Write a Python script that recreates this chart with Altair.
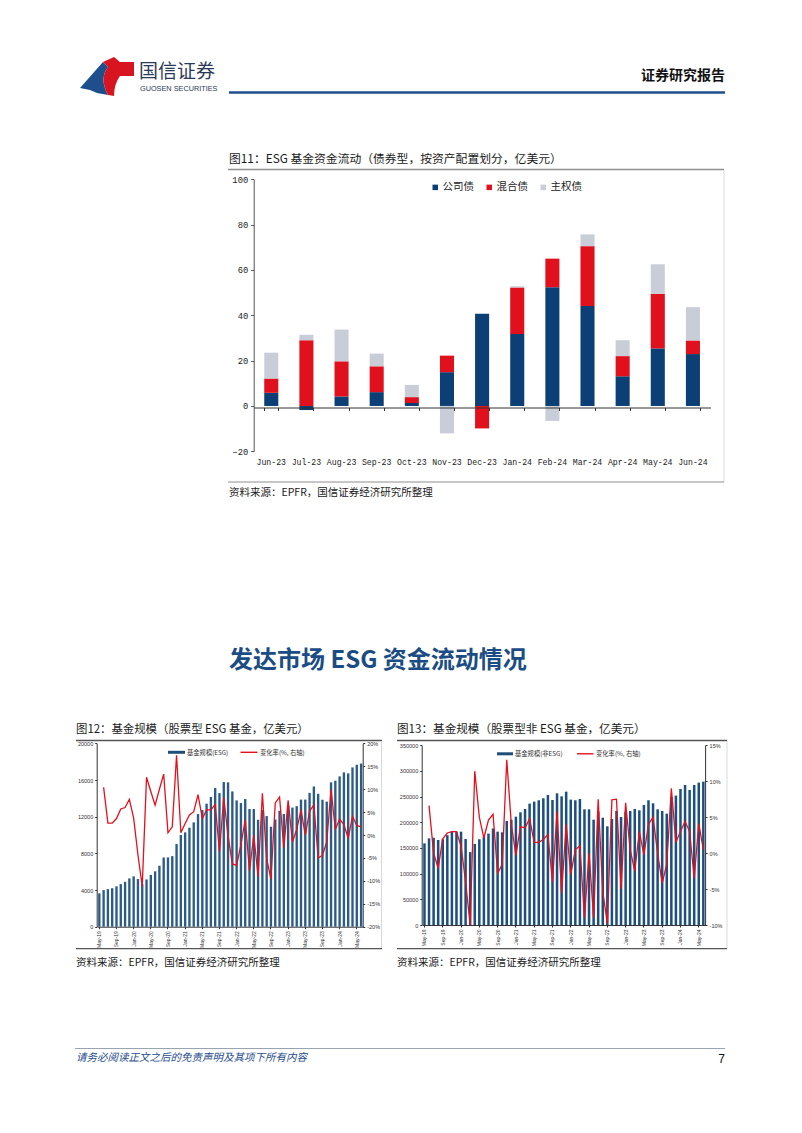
import altair as alt
import pandas as pd

W, H = 802, 1133
FONT = "Noto Sans CJK SC"
MONO = "Liberation Mono"
SANS = "Liberation Sans"

# ---------------- Figure 11 data ----------------
months11 = ["Jun-23", "Jul-23", "Aug-23", "Sep-23", "Oct-23", "Nov-23", "Dec-23",
            "Jan-24", "Feb-24", "Mar-24", "Apr-24", "May-24", "Jun-24"]
series11 = ["公司债", "混合债", "主权债"]
colors11 = ["#0b3f75", "#e1101d", "#c8cdd7"]
corp = [5.8, -1.8, 4.2, 6.1, 1.3, 14.9, 40.7, 31.7, 52.4, 44.1, 13.1, 25.4, 22.9]
mixed = [6.3, 29.0, 15.5, 11.4, 2.6, 7.3, -9.9, 20.6, 12.6, 26.4, 8.9, 24.1, 6.0]
sovereign = [11.4, 2.4, 14.0, 5.6, 5.4, -12.1, 0.0, 0.5, -6.6, 5.2, 7.0, 13.0, 14.7]

# ---------------- Figure 12 / 13 data ----------------
months = list(pd.date_range("2019-05-01", periods=62, freq="MS").strftime("%b-%y"))
label_months = months[::4]

esg_size = [3640, 4000, 4100, 4200, 4400, 4650, 4900, 5270, 5490, 5200,
            4650, 5160, 5650, 6040, 6650, 7550, 7560, 7700, 9020, 10000,
            10290, 10800, 11380, 12290, 12730, 13420, 14150, 15130, 14580, 15780,
            15750, 14760, 13780, 13490, 13930, 12840, 12840, 11670, 12730, 12070,
            10910, 11700, 12650, 12300, 13200, 13000, 13150, 13870, 13870, 14600,
            15300, 14500, 13850, 13650, 15750, 15930, 16400, 16840, 16730, 17380,
            17670, 17800]
esg_rate = [None, 10.4, 2.6, 2.6, 3.6, 5.7, 6.0, 7.8, 3.7, -4.3,
            -11.2, 12.6, 9.5, 6.5, 10.0, 13.3, 0.5, 1.8, 17.4, 0.5,
            2.5, 4.4, 5.1, 8.8, 3.6, 5.5, 5.5, 6.7, -3.6, 8.2,
            -0.2, -6.3, -6.6, -2.1, 3.3, -7.8, 0.0, -9.1, 9.1, -5.2,
            -9.6, 7.0, 8.3, -2.8, 7.6, -1.5, 1.2, 5.5, 0.0, 5.2,
            6.6, -5.0, -4.4, -1.5, 10.0, 1.2, 3.5, 2.3, -0.7, 4.1,
            2.1, 1.8]

non_size = [159000, 168800, 170000, 165600, 167000, 175000, 181800, 181800, 181800, 167500,
            142000, 158000, 167000, 171500, 178000, 188000, 181800, 180500, 202600, 205000,
            211000, 219500, 226000, 236400, 240300, 242900, 246800, 253200, 243500, 256500,
            250600, 259700, 244200, 242900, 245500, 225300, 225300, 205200, 220800, 209000,
            192200, 206500, 222100, 210400, 220800, 222100, 226000, 223400, 233800, 242900,
            237000, 225300, 222100, 216900, 249400, 252000, 265000, 272700, 263000, 272700,
            277300, 279200]
non_rate = [None, 6.6, 0.0, -2.1, 2.0, 2.8, 3.0, 3.0, 1.0, -4.0,
            -10.0, 11.4, 5.0, 2.1, 4.6, 5.4, -2.8, -1.6, 13.0, 4.0,
            -0.3, 3.7, 3.5, 4.8, 1.5, 1.5, 1.9, 2.6, -4.0, 5.8,
            -5.5, 4.0, -3.0, 0.5, 1.0, -9.0, 0.0, -9.0, 7.5, -5.3,
            -9.8, 7.4, 7.5, -5.0, 7.0, 0.5, -2.5, 3.0, -0.2, 4.0,
            5.0, 0.0, -4.2, -1.5, 9.0, 1.5, 3.0, 4.4, 3.0, -3.5,
            4.1, 0.5]

one = pd.DataFrame({"k": [0]})


def txt(s, x, y, size, color="#1a1a1a", font=FONT, weight="normal", align="left",
        style="normal", baseline="middle"):
    return alt.Chart(one).mark_text(
        text=s, fontSize=size, font=font, color=color, align=align,
        baseline=baseline, fontWeight=weight, fontStyle=style
    ).encode(x=alt.value(x), y=alt.value(y))


def hline(x1, x2, y, color="#8c8c8c", w=1.0):
    return alt.Chart(one).mark_rule(color=color, strokeWidth=w).encode(
        x=alt.value(x1), x2=alt.value(x2), y=alt.value(y))


def vline(x, y1, y2, color="#d9d9d9", w=1.0):
    return alt.Chart(one).mark_rule(color=color, strokeWidth=w).encode(
        x=alt.value(x), y=alt.value(y1), y2=alt.value(y2))


# ---------------- Header ----------------
blue_path = ("M -1 0.44 L -0.15 -0.52 L 0.04 -0.33 Q -0.3 0.1 0.04 0.7 "
             "L -0.37 0.63 L -0.63 0.52 Z")
red_path = ("M -0.15 -0.52 L 0.26 -0.7 L 0.48 -0.52 L 1 -0.52 L 1 0 L 0.48 0 "
            "Q 0.26 0.3 0.26 0.74 L 0.04 0.7 Q -0.3 0.1 0.04 -0.33 Z")
logo_blue = alt.Chart(one).mark_point(shape=blue_path, filled=True, color="#1f4e8c",
                                      size=2916, opacity=1, strokeWidth=0).encode(
    x=alt.value(107), y=alt.value(76))
logo_red = alt.Chart(one).mark_point(shape=red_path, filled=True, color="#d7141f",
                                     size=2916, opacity=1, strokeWidth=0).encode(
    x=alt.value(107), y=alt.value(76))

header = [
    logo_blue, logo_red,
    txt("国信证券", 139, 72, 19, color="#2a3a58"),
    txt("GUOSEN SECURITIES", 140, 89, 7.3, color="#2a3a58", font=SANS),
    txt("证券研究报告", 725, 76, 14, color="#111111", weight="bold", align="right"),
    hline(229, 725, 92.5, color="#1f4e8c", w=2.5),
]

# ---------------- Figure 11 ----------------
rows = []
for i, m in enumerate(months11):
    for j, (s, vals) in enumerate(zip(series11, [corp, mixed, sovereign])):
        rows.append({"month": m, "series": s, "value": vals[i], "ord": j})
df11 = pd.DataFrame(rows)

x11_scale = alt.Scale(domain=months11, range=[253.7, 710.5], paddingInner=0.6, paddingOuter=0.3)
bars11 = alt.Chart(df11).mark_bar().encode(
    x=alt.X("month:N", sort=months11, scale=x11_scale,
            axis=alt.Axis(orient="bottom", offset=-(H - 451.3), domain=False, ticks=False,
                          labelPadding=7, labelFont=MONO, labelFontSize=8.2, labelColor="#222",
                          labelAngle=0, title=None, labelOverlap=False, grid=False)),
    y=alt.Y("value:Q", stack="zero",
            scale=alt.Scale(domain=[-20, 100], range=[451.3, 179.3], nice=False, zero=False),
            axis=alt.Axis(orient="left", offset=-253.7, values=[-20, 0, 20, 40, 60, 80, 100],
                          domainColor="#555", tickColor="#555", tickSize=3, labelPadding=3,
                          labelFont=MONO, labelFontSize=8.8, labelColor="#222", grid=False,
                          title=None)),
    color=alt.Color("series:N", sort=series11,
                    scale=alt.Scale(domain=series11, range=colors11),
                    legend=alt.Legend(orient="none", legendX=430, legendY=182,
                                      direction="horizontal", title=None, symbolType="square",
                                      symbolSize=30, symbolStrokeWidth=0, labelFont=FONT,
                                      labelFontSize=10.5, labelColor="#222", columnPadding=10,
                                      labelOffset=2)),
    order=alt.Order("ord:Q"),
)
zero11 = alt.Chart(pd.DataFrame({"month": months11})).mark_point(opacity=0).encode(
    x=alt.X("month:N", sort=months11, scale=x11_scale,
            axis=alt.Axis(orient="bottom", offset=-(H - 407.5), labels=False,
                          domainColor="#333", tickColor="#333", tickSize=3,
                          tickBand="extent", title=None, grid=False, zindex=1)))

fig11 = [
    txt("图11：ESG 基金资金流动（债券型，按资产配置划分，亿美元）", 229, 158.5, 11.8),
    hline(228, 724, 169.5, color="#8f8f8f", w=1.6),
    vline(724, 170, 482),
    bars11, zero11,
    hline(228, 724, 482, color="#8f8f8f", w=1.2),
    txt("资料来源：EPFR，国信证券经济研究所整理", 229, 492.5, 10.5),
]

heading = [txt("发达市场 ESG 资金流动情况", 229, 661, 24, color="#1b4d84", weight="bold")]


# ---------------- Figure 12 / 13 builder ----------------
def size_rate_chart(sizes, rates, xr, ymax, ystep, rmin, rmax, rstep, top, bottom, bar_color):
    df = pd.DataFrame({"month": months, "size": sizes, "rate": rates})
    xs = alt.Scale(domain=months, range=xr, paddingInner=0.45, paddingOuter=0.22)
    xenc = alt.X("month:N", sort=months, scale=xs,
                 axis=alt.Axis(orient="bottom", offset=-(H - bottom), values=label_months,
                               labelAngle=270, labelFont=SANS, labelFontSize=5,
                               labelColor="#333", labelPadding=2, tickSize=2,
                               domainColor="#333", tickColor="#333", title=None,
                               labelOverlap=False, labelBound=False, grid=False))
    bars = alt.Chart(df).mark_bar(color=bar_color).encode(
        x=xenc,
        y=alt.Y("size:Q",
                scale=alt.Scale(domain=[0, ymax], range=[bottom, top], nice=False),
                axis=alt.Axis(orient="left", offset=-(xr[0] - 0.5),
                              values=list(range(0, ymax + 1, ystep)), format="d",
                              labelFont=SANS, labelFontSize=5.5, labelColor="#333",
                              tickSize=2, labelPadding=2, domainColor="#333",
                              tickColor="#333", title=None, grid=False)))
    line = alt.Chart(df).mark_line(color="#e3101e", strokeWidth=1.3).encode(
        x=xenc,
        y=alt.Y("rate:Q",
                scale=alt.Scale(domain=[rmin, rmax], range=[bottom, top], nice=False,
                                zero=False),
                axis=alt.Axis(orient="right", offset=-(W - xr[1] + 0.5),
                              values=list(range(rmin, rmax + 1, rstep)),
                              labelExpr="datum.value + '%'",
                              labelFont=SANS, labelFontSize=5.5, labelColor="#333",
                              tickSize=2, labelPadding=2, domainColor="#333",
                              tickColor="#333", title=None, grid=False)))
    return alt.layer(bars, line).resolve_scale(y="independent")


fig12 = [
    txt("图12：基金规模（股票型 ESG 基金，亿美元）", 76, 729.5, 11.4),
    hline(76, 382, 740.5, color="#555", w=1.4),
    vline(381.5, 741, 949),
    size_rate_chart(esg_size, esg_rate, [97.2, 363.2], 20000, 4000, -20, 20, 5,
                    743.4, 926.7, "#2b5b88"),
    hline(168, 185, 752.3, color="#1f4e79", w=3),
    txt("基金规模(ESG)", 187, 752.5, 6.3, color="#333"),
    hline(240.5, 257.5, 752.3, color="#e3101e", w=1.4),
    txt("变化率(%, 右轴)", 260, 752.5, 6.3, color="#333"),
    hline(76, 382, 948.7, color="#555", w=1.2),
    txt("资料来源：EPFR，国信证券经济研究所整理", 76, 963, 10.5),
]

fig13 = [
    txt("图13：基金规模（股票型非 ESG 基金，亿美元）", 397, 729.5, 11.6),
    hline(397, 727, 740.5, color="#555", w=1.4),
    vline(727, 741, 949),
    size_rate_chart(non_size, non_rate, [422.2, 705.6], 350000, 50000, -10, 15, 5,
                    745.3, 925.0, "#1c4f80"),
    hline(497, 513, 753.8, color="#1f4e79", w=3),
    txt("基金规模(非ESG)", 515, 754, 6.3, color="#333"),
    hline(577, 593.5, 753.8, color="#e3101e", w=1.4),
    txt("变化率(%, 右轴)", 596, 754, 6.3, color="#333"),
    hline(397, 727, 948.7, color="#555", w=1.2),
    txt("资料来源：EPFR，国信证券经济研究所整理", 397, 963, 10.5),
]

footer = [
    hline(75, 725, 1048.5, color="#9aa3b0", w=1.2),
    txt("请务必阅读正文之后的免责声明及其项下所有内容", 76, 1058, 10.5,
        color="#1f4e8c", style="italic"),
    txt("7", 725, 1058.5, 12, color="#111", font=SANS, align="right"),
]

chart = alt.layer(*(header + fig11 + heading + fig12 + fig13 + footer)).resolve_scale(
    x="independent", y="independent", color="independent"
).properties(
    width=W, height=H, autosize=alt.AutoSizeParams(type="none"), padding=0
).configure(background="white").configure_view(stroke=None)

chart.save("out.html", embed_options={"renderer": "svg", "actions": False})
